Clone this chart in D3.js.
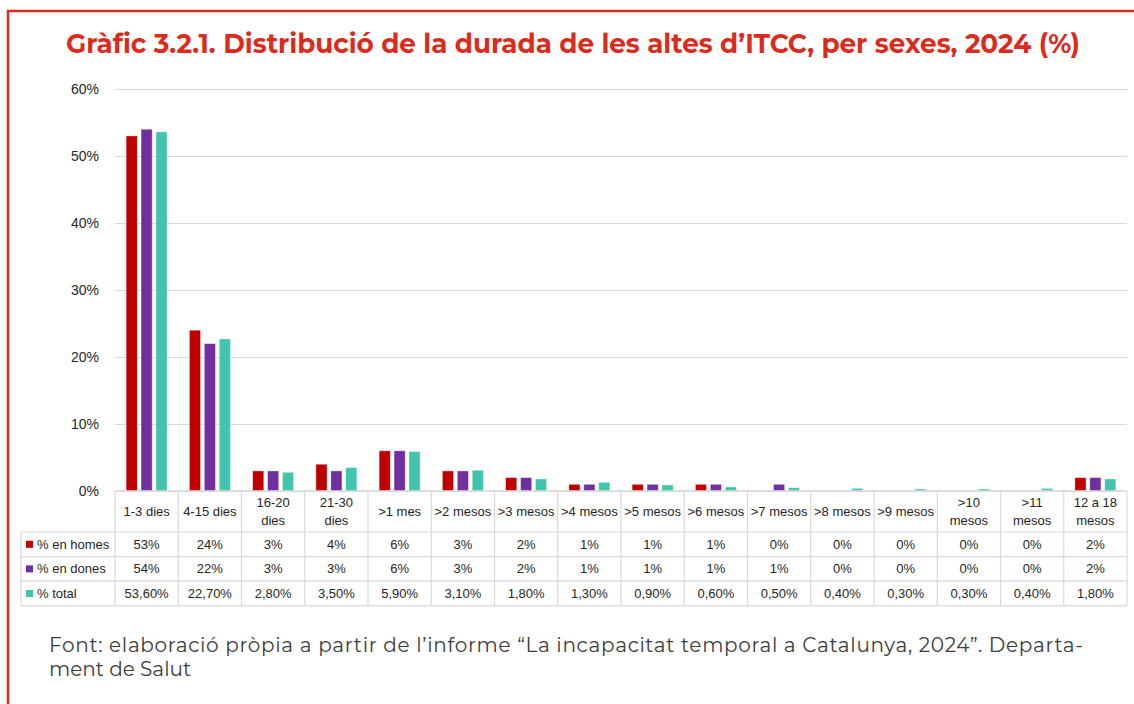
<!DOCTYPE html>
<html>
<head>
<meta charset="utf-8">
<script src="https://cdn.jsdelivr.net/npm/d3@7"></script>
<style>
  body { margin: 0; background: #fff; }
  svg { display: block; }
  .tick-label { font-family: "Liberation Sans", Arial, sans-serif; font-size: 14px; fill: #262626; }
  .cell { font-family: "Liberation Sans", Arial, sans-serif; font-size: 13px; fill: #262626; }
</style>
</head>
<body>
<div id="chart"></div>
<script>
// data
const categories = [
  "1-3 dies", "4-15 dies", "16-20\ndies", "21-30\ndies", ">1 mes", ">2 mesos",
  ">3 mesos", ">4 mesos", ">5 mesos", ">6 mesos", ">7 mesos", ">8 mesos",
  ">9 mesos", ">10\nmesos", ">11\nmesos", "12 a 18\nmesos"
];
const seriesNames = ["% en homes", "% en dones", "% total"];
const homes = [53, 24, 3, 4, 6, 3, 2, 1, 1, 1, 0, 0, 0, 0, 0, 2];
const dones = [54, 22, 3, 3, 6, 3, 2, 1, 1, 1, 1, 0, 0, 0, 0, 2];
const total = [53.6, 22.7, 2.8, 3.5, 5.9, 3.1, 1.8, 1.3, 0.9, 0.6, 0.5, 0.4, 0.3, 0.3, 0.4, 1.8];
const yTicks = [0, 10, 20, 30, 40, 50, 60];
const colors = ["#c00000", "#7030a0", "#43c4ae"];

const titleText = "Gràfic 3.2.1. Distribució de la durada de les altes d’ITCC, per sexes, 2024 (%)";
const sourceLines = [
  "Font: elaboració pròpia a partir de l’informe “La incapacitat temporal a Catalunya, 2024”. Departa-",
  "ment de Salut"
];

const seriesValues = [homes, dones, total];

const W = 1134, H = 704;
const plot = { left: 115, right: 1127, top: 89, bottom: 491 };
const tableLeft = 21;
const headerBottom = 532;
const rowH = 24.6;
const gridColor = "#d9d9d9";

const locale = d3.formatLocale({ decimal: ",", thousands: ".", grouping: [3], currency: ["", "€"] });
const fmtInt = (v) => locale.format("d")(v) + "%";
const fmtDec = (v) => locale.format(".2f")(v) + "%";
const formats = [fmtInt, fmtInt, fmtDec];

const svg = d3.select("#chart").append("svg")
  .attr("width", W).attr("height", H);

// frame
svg.append("path")
  .attr("d", "M8," + (H + 10) + " V11 H" + (W + 10))
  .attr("fill", "none")
  .attr("stroke", "#e2281c")
  .attr("stroke-width", 2.5);

// title
const title = svg.append("text")
  .attr("x", 573).attr("y", 53)
  .attr("text-anchor", "middle")
  .style("font-family", "Montserrat, 'Open Sans', sans-serif")
  .style("font-weight", 700)
  .style("font-size", "26.5px")
  .attr("fill", "#dc2a1c")
  .text(titleText);
title.attr("textLength", 1014).attr("lengthAdjust", "spacingAndGlyphs");

// scales
const x0 = d3.scaleBand().domain(categories).range([plot.left, plot.right]).paddingInner(0);
const groupW = 41;
const x1 = d3.scaleBand().domain(seriesNames).range([0, groupW]).paddingInner(0.25);
const y = d3.scaleLinear().domain([0, 60]).range([plot.bottom, plot.top]);

// gridlines + y labels
const yAxis = d3.axisLeft(y).tickValues(yTicks).tickSize(-(plot.right - plot.left)).tickFormat((d) => d + "%");
const yg = svg.append("g").attr("transform", "translate(" + plot.left + ",0)").call(yAxis);
yg.select(".domain").remove();
yg.selectAll(".tick line").attr("stroke", gridColor).attr("stroke-width", 1.2);
yg.selectAll(".tick text")
  .attr("class", "tick-label")
  .attr("x", -16)
  .attr("dy", "0.35em");
yg.attr("font-family", null).attr("font-size", null);

// bars
const groups = svg.append("g").selectAll("g")
  .data(categories)
  .join("g")
  .attr("transform", (d) => "translate(" + (x0(d) + (x0.bandwidth() - groupW) / 2) + ",0)");

groups.selectAll("rect")
  .data((d, i) => seriesNames.map((s, k) => ({ s: s, k: k, v: seriesValues[k][i] })).filter((e) => e.v > 0))
  .join("rect")
  .attr("x", (e) => x1(e.s))
  .attr("width", x1.bandwidth())
  .attr("y", (e) => y(e.v))
  .attr("height", (e) => y(0) - y(e.v))
  .attr("fill", (e) => colors[e.k])
  .attr("stroke", "#ffffff")
  .attr("stroke-opacity", 0.5)
  .attr("stroke-width", 0.8);

// data table
const table = svg.append("g");
const tableBottom = headerBottom + rowH * 3;

// horizontal lines
table.append("line")
  .attr("x1", plot.left).attr("x2", plot.right)
  .attr("y1", plot.bottom).attr("y2", plot.bottom)
  .attr("stroke", gridColor).attr("stroke-width", 1.5);
d3.range(4).forEach((r) => {
  table.append("line")
    .attr("x1", tableLeft).attr("x2", plot.right)
    .attr("y1", headerBottom + r * rowH).attr("y2", headerBottom + r * rowH)
    .attr("stroke", gridColor).attr("stroke-width", 1.2);
});
// vertical lines
table.append("line")
  .attr("x1", tableLeft).attr("x2", tableLeft)
  .attr("y1", headerBottom).attr("y2", tableBottom)
  .attr("stroke", gridColor).attr("stroke-width", 1.2);
categories.concat([null]).forEach((c) => {
  const xx = c === null ? plot.right : x0(c);
  table.append("line")
    .attr("x1", xx).attr("x2", xx)
    .attr("y1", plot.bottom).attr("y2", tableBottom)
    .attr("stroke", gridColor).attr("stroke-width", 1.2);
});

// header labels
categories.forEach((c) => {
  const lines = c.split("\n");
  const cx = x0(c) + x0.bandwidth() / 2;
  const cy = (plot.bottom + headerBottom) / 2;
  const t = table.append("text").attr("class", "cell")
    .attr("text-anchor", "middle")
    .attr("x", cx);
  lines.forEach((ln, j) => {
    t.append("tspan")
      .attr("x", cx)
      .attr("y", cy + (j - (lines.length - 1) / 2) * 17.5)
      .attr("dy", "0.35em")
      .text(ln);
  });
});

// rows
seriesNames.forEach((s, k) => {
  const cy = headerBottom + rowH * k + rowH / 2;
  table.append("rect")
    .attr("x", 26).attr("y", cy - 3.5)
    .attr("width", 7).attr("height", 7)
    .attr("fill", colors[k]);
  table.append("text").attr("class", "cell")
    .attr("x", 37).attr("y", cy).attr("dy", "0.35em")
    .text(s);
  categories.forEach((c, i) => {
    table.append("text").attr("class", "cell")
      .attr("text-anchor", "middle")
      .attr("x", x0(c) + x0.bandwidth() / 2)
      .attr("y", cy).attr("dy", "0.35em")
      .text(formats[k](seriesValues[k][i]));
  });
});

// source note
sourceLines.forEach((ln, j) => {
  const t = svg.append("text")
    .attr("x", 49).attr("y", 652 + j * 24)
    .style("font-family", "Montserrat, 'Open Sans', sans-serif")
    .style("font-size", "20px")
    .attr("fill", "#3c3c3c")
    .text(ln);
  if (j === 0) t.attr("textLength", 1034).attr("lengthAdjust", "spacing");
});
</script>
</body>
</html>
